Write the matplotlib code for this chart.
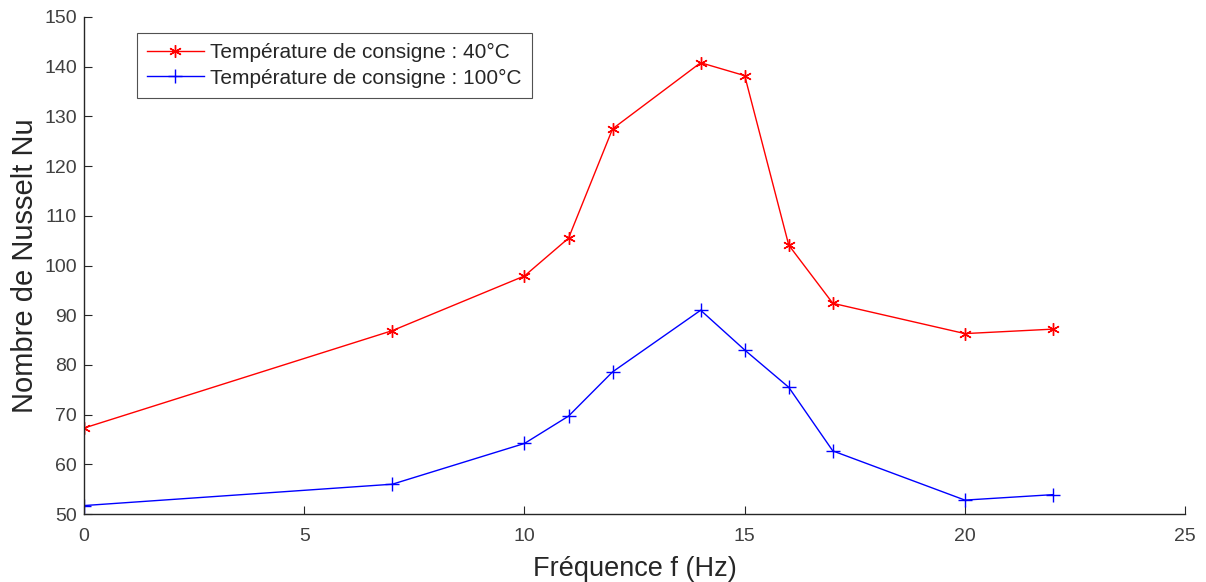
import matplotlib
matplotlib.use('Agg')
import matplotlib.pyplot as plt

freq = [0, 7, 10, 11, 12, 14, 15, 16, 17, 20, 22]
nu_40 = [67.3, 86.9, 97.9, 105.5, 127.5, 140.8, 138.2, 104.1, 92.4, 86.3, 87.2]
nu_100 = [51.7, 56.0, 64.2, 69.7, 78.6, 91.0, 83.0, 75.5, 62.7, 52.8, 53.9]

labels = ['Température de consigne : 40°C', 'Température de consigne : 100°C']

plt.rcParams['font.family'] = ['Liberation Sans', 'DejaVu Sans']

fig = plt.figure(figsize=(12.06, 5.82), dpi=100)
ax = fig.add_axes([0.0697, 0.1168, 0.913, 0.854])

# MATLAB-style asterisk marker: 6-armed star of lines
ax.plot(freq, nu_40, color='#ff0000', marker=(6, 2, 0), markersize=9,
        markeredgewidth=1.0, linewidth=1.0, label=labels[0])
ax.plot(freq, nu_100, color='#0000ff', marker='+', markersize=10,
        markeredgewidth=1.0, linewidth=1.0, label=labels[1])

ax.set_xlim(0, 25)
ax.set_ylim(50, 150)
ax.set_xticks(range(0, 26, 5))
ax.set_yticks(range(50, 151, 10))

for side in ('top', 'right'):
    ax.spines[side].set_visible(False)
for side in ('left', 'bottom'):
    ax.spines[side].set_color('#262626')
    ax.spines[side].set_linewidth(1.0)

ax.tick_params(direction='in', length=6, width=0.8, colors='#262626',
               labelsize=14, labelcolor='#404040')
ax.tick_params(axis='x', pad=10)
ax.tick_params(axis='y', pad=5)

ax.set_xlabel('Fréquence f (Hz)', fontsize=19.5, color='#262626', labelpad=8)
ax.set_ylabel('Nombre de Nusselt Nu', fontsize=21, color='#262626', labelpad=4)

leg = ax.legend(loc='upper left', bbox_to_anchor=(0.048, 0.968),
                fontsize=15, frameon=True, fancybox=False,
                edgecolor='#262626', handlelength=2.7, borderpad=0.5,
                labelspacing=0.3, handletextpad=0.3, borderaxespad=0.0)
leg.get_frame().set_linewidth(0.8)
for t in leg.get_texts():
    t.set_color('#262626')

plt.savefig('out.png', dpi=100)
plt.close()
